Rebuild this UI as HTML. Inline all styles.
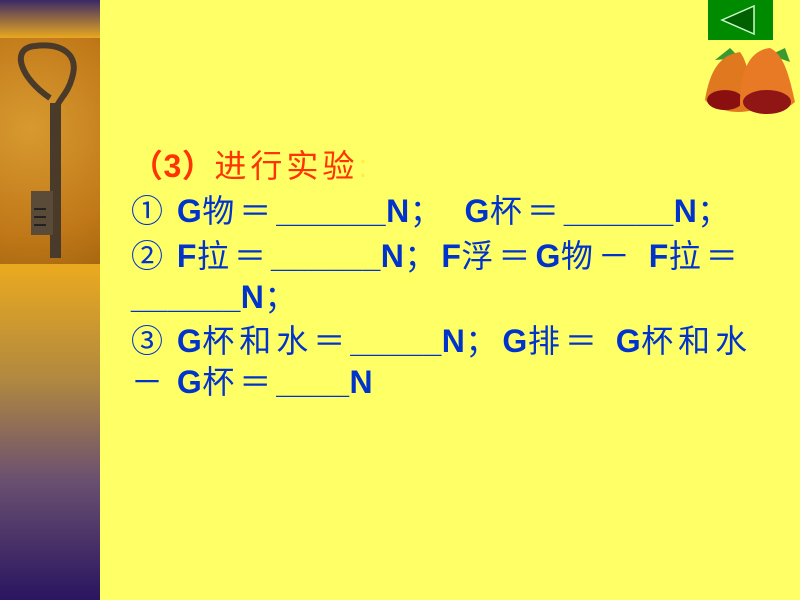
<!DOCTYPE html>
<html><head><meta charset="utf-8"><style>
body{margin:0;width:800px;height:600px;overflow:hidden;background:#ffff66;position:relative;font-family:"Liberation Sans","Noto Sans CJK SC",sans-serif}
.strip{position:absolute;left:0;top:0;width:100px;height:600px}
.l{position:absolute;left:131px;font-size:32px;letter-spacing:5px;white-space:pre;color:#0033cc;line-height:36px}
.l b{font-weight:bold;letter-spacing:0.5px}
.s{letter-spacing:0}
</style></head><body>
<div class="strip" style="background:linear-gradient(#3a2a66,#e8a820 38px,#e8a820 264px,#e8a820 270px,#b08840 380px,#6a5070 480px,#2a1560 600px)"></div>
<div style="position:absolute;left:0;top:38px;width:100px;height:226px;background:radial-gradient(circle at 30% 40%,#d89a30,#c07818 70%,#a86810)"></div>
<svg style="position:absolute;left:0;top:38px" width="100" height="226">
<path d="M50 60 C20 40 10 10 35 8 C60 5 80 15 72 40 C68 55 60 60 56 70" fill="none" stroke="#4a3a2a" stroke-width="6"/>
<rect x="50" y="65" width="11" height="155" fill="#4a3a2a"/>
<rect x="31" y="153" width="22" height="44" fill="#5a4a38"/>
<rect x="34" y="170" width="12" height="2" fill="#222"/><rect x="34" y="178" width="12" height="2" fill="#222"/><rect x="34" y="186" width="12" height="2" fill="#222"/>
</svg>
<div style="position:absolute;left:708px;top:0;width:65px;height:40px;background:#008a00"></div>
<svg style="position:absolute;left:708px;top:0" width="65" height="40"><polygon points="14,20 46,6 46,34" fill="#006000" stroke="#c8ffc8" stroke-width="1.5"/></svg>
<svg style="position:absolute;left:695px;top:40px" width="105" height="80">
<path d="M20 20 L35 8 L45 18Z M75 15 L90 8 L95 22Z" fill="#3a9a30"/>
<path d="M10 60 C15 30 25 15 45 12 C55 25 55 50 58 70 C40 75 20 70 10 60Z" fill="#e07820"/>
<ellipse cx="30" cy="60" rx="18" ry="10" fill="#8a1010"/>
<path d="M45 65 C45 30 55 10 75 8 C90 15 95 40 100 62 C85 75 60 78 45 65Z" fill="#e87a25"/>
<ellipse cx="72" cy="62" rx="24" ry="12" fill="#901515"/>
</svg>
<div class="l" style="top:148px;color:#ff3300;letter-spacing:4px"><b>（3）</b>进行实验<span style="color:#ffee44">:</span></div>
<div class="l" style="top:193px">①<span class="s"> </span><b>G</b>物＝<b>______N</b>；<span class="s">  </span><b>G</b>杯＝<b>______N</b>；</div>
<div class="l" style="top:238px">②<span class="s"> </span><b>F</b>拉＝<b>______N</b>；<b>F</b>浮＝<b>G</b>物－ <b>F</b>拉＝</div>
<div class="l" style="top:279px"><b>______N</b>；</div>
<div class="l" style="top:323px">③<span class="s"> </span><b>G</b>杯和水＝<b>_____N</b>；<b>G</b>排＝ <b>G</b>杯和水</div>
<div class="l" style="top:364px">－<span class="s"> </span><b>G</b>杯＝<b>____N</b></div>
</body></html>
